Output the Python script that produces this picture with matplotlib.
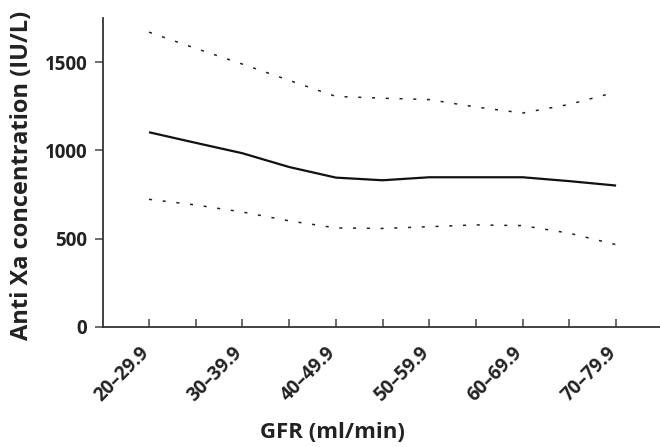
import numpy as np
import matplotlib
matplotlib.use("Agg")
import matplotlib.pyplot as plt
import matplotlib.transforms as mtransforms
from matplotlib.ticker import FixedLocator

plt.rcParams['font.family'] = ['Open Sans', 'DejaVu Sans']

gfr_labels = ["20–29.9", "30–39.9", "40–49.9", "50–59.9", "60–69.9", "70–79.9"]
# values read at every half category step (0, 0.5, ... 5)
pos = [0, 0.5, 1, 1.5, 2, 2.5, 3, 3.5, 4, 4.5, 5]
mean_conc = [1102, 1042, 983, 905, 845, 830, 847, 847, 847, 825, 800]
upper_conc = [1669, 1577, 1488, 1396, 1305, 1295, 1287, 1245, 1211, 1260, 1330]
lower_conc = [722, 690, 650, 600, 560, 557, 567, 577, 573, 530, 465]

fig = plt.figure(figsize=(6.6, 4.47), dpi=100)
ax = fig.add_axes([0.1556, 0.269, 0.8444, 0.691])

ax.plot(pos, mean_conc, color='#111111', lw=1.6, solid_capstyle='butt')
ax.plot(pos, upper_conc, color='#222222', lw=1.1, dashes=(2, 7))
ax.plot(pos, lower_conc, color='#222222', lw=1.1, dashes=(2, 7))

ax.set_xlim(-0.496, 5.47)
ax.set_ylim(0, 1750)

for s in ['top', 'right']:
    ax.spines[s].set_visible(False)
for s in ['left', 'bottom']:
    ax.spines[s].set_linewidth(1.3)
    ax.spines[s].set_color('#333333')

ax.set_yticks([0, 500, 1000, 1500])
ax.set_yticklabels(['0', '500', '1000', '1500'], fontsize=13.5, fontweight='bold',
                   color='#222222')
ax.tick_params(axis='y', direction='out', length=6, width=1.1, color='#444444', pad=5)

ax.set_xticks(range(6))
ax.set_xticklabels(gfr_labels, rotation=45, ha='right', va='top',
                   rotation_mode='anchor', fontsize=13.5, fontweight='bold',
                   color='#222222')
ax.xaxis.set_minor_locator(FixedLocator([0.5, 1.5, 2.5, 3.5, 4.5]))
ax.tick_params(axis='x', which='both', direction='in', length=6, width=1.1,
               color='#444444', pad=12)

ax.set_ylabel('Anti Xa concentration (IU/L)', fontsize=17, fontweight='bold',
              color='#222222')
ax.yaxis.set_label_coords(-0.145, 0.491)
ax.yaxis.label.set_va('center')
ax.set_xlabel('GFR (ml/min)', fontsize=16, fontweight='bold', color='#222222')
ax.xaxis.set_label_coords(0.413, -0.341)
ax.xaxis.label.set_va('center')

# nudge the slanted labels a bit left of their ticks
fig.canvas.draw()
shift = mtransforms.ScaledTranslation(-10 / 100, 0, fig.dpi_scale_trans)
for tick in ax.xaxis.get_major_ticks():
    tick.label1.set_transform(tick.label1.get_transform() + shift)

fig.savefig('out.png', dpi=100)
